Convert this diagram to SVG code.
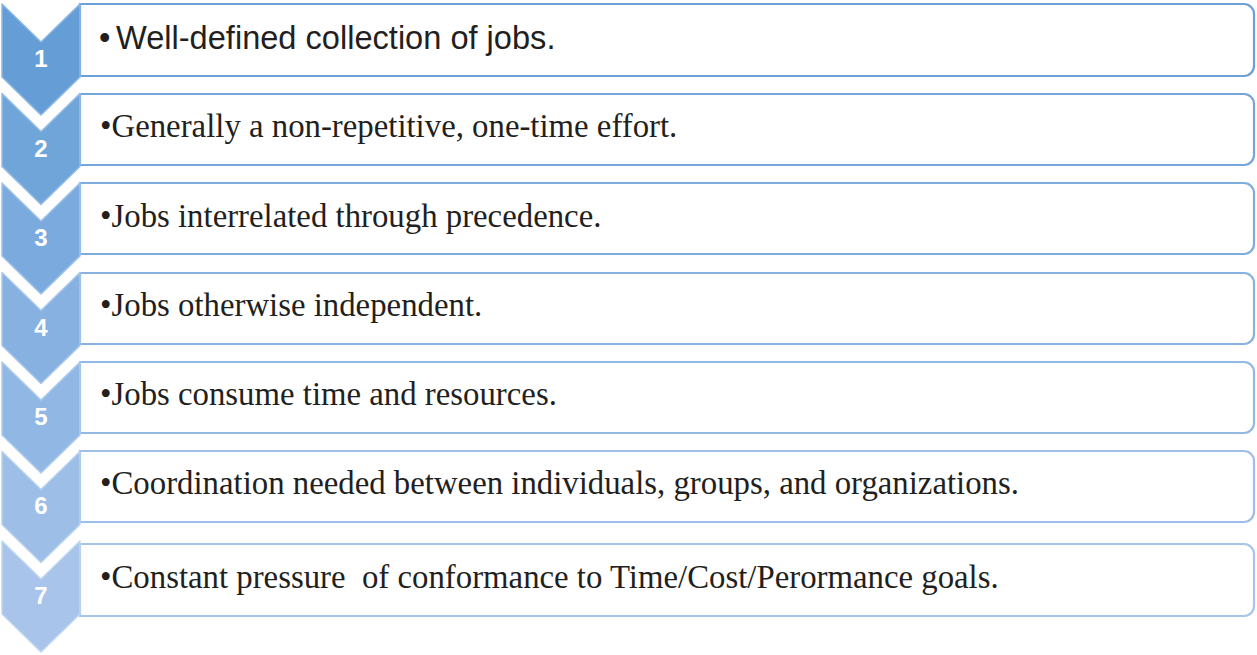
<svg xmlns="http://www.w3.org/2000/svg" width="1257" height="655" viewBox="0 0 1257 655">
<style>
.num{font-family:"Liberation Sans",Arial,sans-serif;font-weight:bold;font-size:24px;fill:#fff;text-anchor:middle}
.sans{font-family:"Liberation Sans",Arial,sans-serif;font-size:32.6px;fill:#231f20}
.serif{font-family:"Liberation Serif","Times New Roman",serif;font-size:32.8px;fill:#231f20;white-space:pre}
.box{fill:#fff;stroke-width:2.2}
.chev{stroke-width:1.5;stroke-linejoin:round}
</style>
<defs>
<path id="chv" d="M2,0 L41,38 L80,0 L80,73 L41,111 L2,73 Z"/>
</defs>
<rect width="1257" height="655" fill="#fff"/>
<g id="node1">
<path class="box" stroke="#69a0d8" d="M80,4 H1244 A10,10 0 0 1 1254,14 V66 A10,10 0 0 1 1244,76 H80 Z"/>
<use href="#chv" class="chev" x="0" y="4" fill="#659ed7" stroke="#8cb8e4"/>
<text class="num" x="41" y="67">1</text>
<text class="sans" x="99" y="49">•<tspan x="116">Well-defined collection of jobs.</tspan></text>
</g>
<g id="node2">
<path class="box" stroke="#74a6db" d="M80,94 H1244 A10,10 0 0 1 1254,104 V155 A10,10 0 0 1 1244,165 H80 Z"/>
<use href="#chv" class="chev" x="0" y="93.5" fill="#70a5da" stroke="#96bee6"/>
<text class="num" x="41" y="157">2</text>
<text class="serif" x="100" y="137">•Generally a non-repetitive, one-time effort.</text>
</g>
<g id="node3">
<path class="box" stroke="#7eacde" d="M80,183 H1244 A10,10 0 0 1 1254,193 V244 A10,10 0 0 1 1244,254 H80 Z"/>
<use href="#chv" class="chev" x="0" y="183" fill="#7babde" stroke="#a0c4e8"/>
<text class="num" x="41" y="246">3</text>
<text class="serif" x="100" y="227">•Jobs interrelated through precedence.</text>
</g>
<g id="node4">
<path class="box" stroke="#88b2e1" d="M80,273 H1244 A10,10 0 0 1 1254,283 V334 A10,10 0 0 1 1244,344 H80 Z"/>
<use href="#chv" class="chev" x="0" y="272.5" fill="#86b1e1" stroke="#a8c8ea"/>
<text class="num" x="41" y="336">4</text>
<text class="serif" x="100" y="316">•Jobs otherwise independent.</text>
</g>
<g id="node5">
<path class="box" stroke="#93b8e4" d="M80,362 H1244 A10,10 0 0 1 1254,372 V423 A10,10 0 0 1 1244,433 H80 Z"/>
<use href="#chv" class="chev" x="0" y="362" fill="#91b8e4" stroke="#b0cced"/>
<text class="num" x="41" y="425">5</text>
<text class="serif" x="100" y="405">•Jobs consume time and resources.</text>
</g>
<g id="node6">
<path class="box" stroke="#9dbee7" d="M80,451 H1244 A10,10 0 0 1 1254,461 V512 A10,10 0 0 1 1244,522 H80 Z"/>
<use href="#chv" class="chev" x="0" y="451.5" fill="#9cbee7" stroke="#b8d2ef"/>
<text class="num" x="41" y="514">6</text>
<text class="serif" x="100" y="494">•Coordination needed between individuals, groups, and organizations.</text>
</g>
<g id="node7">
<path class="box" stroke="#a8c4ea" d="M80,544 H1244 A10,10 0 0 1 1254,554 V606 A10,10 0 0 1 1244,616 H80 Z"/>
<use href="#chv" class="chev" x="0" y="541" fill="#a8c4ea" stroke="#c0d7f1"/>
<text class="num" x="41" y="604">7</text>
<text class="serif" x="100" y="588">•Constant pressure  of conformance to Time/Cost/Perormance goals.</text>
</g>
<g id="connectors"/>
</svg>
